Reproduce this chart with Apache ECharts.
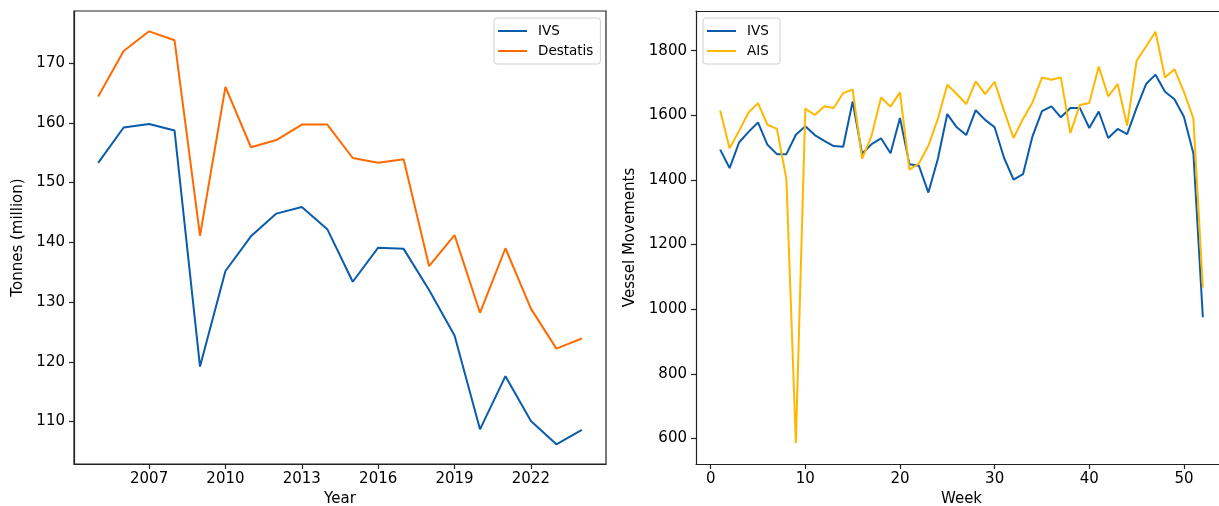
<!DOCTYPE html>
<html>
<head>
<meta charset="utf-8">
<script src="https://cdn.jsdelivr.net/npm/echarts@6/dist/echarts.min.js"></script>
<style>
html,body{margin:0;padding:0;background:#fff;}
#c{width:1219px;height:506px;}
</style>
</head>
<body>
<div id="c"></div>
<script>
// Left panel: annual tonnage
const years = [2005,2006,2007,2008,2009,2010,2011,2012,2013,2014,2015,2016,2017,2018,2019,2020,2021,2022,2023,2024];
const ivsYear = [153.3,159.2,159.8,158.7,119.2,135.2,141.0,144.8,145.9,142.2,133.4,139.1,138.9,132.0,124.4,108.7,117.6,110.1,106.2,108.6];
const destatisYear = [164.4,172.0,175.3,173.8,141.1,166.0,155.9,157.1,159.7,159.7,154.1,153.3,153.9,136.0,141.2,128.2,139.0,128.9,122.2,123.9];
const yearTicks = [2007,2010,2013,2016,2019,2022];
const tonneTicks = [110,120,130,140,150,160,170];

// Right panel: weekly vessel movements
const weeks = [];
for (let w = 1; w <= 52; w++) weeks.push(w);
const ivsWeek = [1494,1437,1516,1549,1578,1509,1480,1480,1540,1566,1539,1521,1505,1503,1643,1481,
  1511,1529,1483,1592,1449,1444,1361,1465,1604,1563,1539,1616,1586,1563,1468,1401,1418,1535,
  1613,1628,1594,1623,1623,1561,1612,1530,1558,1542,1623,1697,1726,1673,1650,1596,1482,975];
const aisWeek = [1615,1498,1552,1609,1638,1571,1558,1403,585,1621,1601,1628,1623,1669,1680,1465,
  1537,1655,1627,1671,1432,1451,1506,1589,1695,1666,1635,1705,1666,1704,1614,1530,1589,1640,
  1717,1710,1717,1545,1632,1638,1751,1659,1697,1568,1769,1813,1859,1717,1743,1673,1590,1067];
const weekTicks = [0,10,20,30,40,50];
const moveTicks = [600,800,1000,1200,1400,1600,1800];

const C_IVS = '#0A5CAB', C_DES = '#FF6A00', C_AIS = '#FFB800';
const FONT = 'DejaVu Sans';

function pairs(xs, ys){ return xs.map((x,i)=>[x, ys[i]]); }
const plain = v => String(v);

function xAxisCfg(idx, min, max, ticks, name){
  return {
    type:'value', gridIndex: idx, min: min, max: max,
    name: name, nameLocation:'middle', nameGap: 25,
    nameTextStyle:{fontFamily:FONT, fontSize:15, color:'#000'},
    axisLine:{show:true, onZero:false, lineStyle:{color:'#222', width:1.2}},
    axisTick:{show:true, length:5, lineStyle:{color:'#222', width:1.2}, customValues: ticks},
    axisLabel:{show:true, margin:8, fontFamily:FONT, fontSize:15, color:'#000', customValues: ticks, formatter: plain},
    splitLine:{show:false}
  };
}
function yAxisCfg(idx, min, max, ticks, name, gap){
  return {
    type:'value', gridIndex: idx, min: min, max: max,
    name: name, nameLocation:'middle', nameGap: gap,
    nameTextStyle:{fontFamily:FONT, fontSize:15, color:'#000'},
    axisLine:{show:true, onZero:false, lineStyle:{color:'#222', width:1.2}},
    axisTick:{show:true, length:5, lineStyle:{color:'#222', width:1.2}, customValues: ticks},
    axisLabel:{show:true, margin:9, fontFamily:FONT, fontSize:15, color:'#000', customValues: ticks, formatter: plain},
    splitLine:{show:false}
  };
}
function lineSeries(name, xi, yi, data, color){
  return {
    type:'line', name: name, xAxisIndex: xi, yAxisIndex: yi, data: data,
    symbol:'none', smooth:false, animation:false,
    lineStyle:{color: color, width:2}, itemStyle:{color: color}
  };
}
const legendBase = {
  orient:'vertical', icon:'rect', itemWidth:29, itemHeight:2, itemGap:6,
  backgroundColor:'#fff', borderColor:'#d0d0d0', borderWidth:1, borderRadius:3,
  padding:[6,7,6,4],
  textStyle:{fontFamily:FONT, fontSize:13.5, color:'#000', padding:[0,0,0,6]}
};

const chart = echarts.init(document.getElementById('c'), null, {renderer:'canvas'});
chart.setOption({
  animation:false,
  backgroundColor:'#fff',
  grid:[
    {left:74, top:11, width:532, height:453, outerBoundsMode:'none', containLabel:false,
     show:true, borderColor:'#222', borderWidth:1.2, backgroundColor:'transparent'},
    {left:696, top:11, width:531, height:453, outerBoundsMode:'none', containLabel:false,
     show:false}
  ],
  xAxis:[
    xAxisCfg(0, 2004.05, 2024.95, yearTicks, 'Year'),
    xAxisCfg(1, -1.55, 54.55, weekTicks, 'Week'),
    {type:'value', gridIndex:1, position:'top', min:-1.55, max:54.55,
     axisLine:{show:true, onZero:false, lineStyle:{color:'#222', width:1.2}},
     axisTick:{show:false}, axisLabel:{show:false}, splitLine:{show:false}}
  ],
  yAxis:[
    yAxisCfg(0, 102.9, 178.7, tonneTicks, 'Tonnes (million)', 48),
    yAxisCfg(1, 521, 1923, moveTicks, 'Vessel Movements', 58)
  ],
  legend:[
    Object.assign({}, legendBase, {left:494, top:18, data:['IVS','Destatis']}),
    Object.assign({}, legendBase, {left:703, top:18, data:['IVS ','AIS']})
  ],
  series:[
    lineSeries('IVS', 0, 0, pairs(years, ivsYear), C_IVS),
    lineSeries('Destatis', 0, 0, pairs(years, destatisYear), C_DES),
    lineSeries('IVS ', 1, 1, pairs(weeks, ivsWeek), C_IVS),
    lineSeries('AIS', 1, 1, pairs(weeks, aisWeek), C_AIS)
  ]
});
</script>
</body>
</html>
